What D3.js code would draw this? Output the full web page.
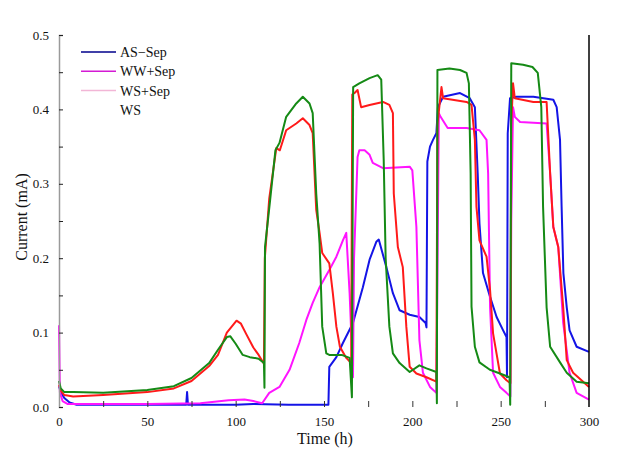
<!DOCTYPE html>
<html><head><meta charset="utf-8">
<script src="https://cdn.jsdelivr.net/npm/d3@7/dist/d3.min.js"></script>
<style>
html,body{margin:0;padding:0;background:#fff;}
svg text{font-family:"Liberation Serif","DejaVu Serif","Times New Roman",serif !important;}
</style></head>
<body><svg id="chart" width="635" height="452"></svg>
<script>
// ---- data (time in h, current in mA) ----
const legendLabels = ["AS\u2212Sep", "WW+Sep", "WS+Sep", "WS"];
const legendColors = ["#00008b", "#d41ad4", "#f2b6d6", "none"];
const yTickLabels = [0.0, 0.1, 0.2, 0.3, 0.4, 0.5];
const xTickLabels = [0, 50, 100, 150, 200, 250, 300];

const blueSeries = [[0,0.028],[1,0.02],[3,0.012],[6,0.006],[10,0.003],[30,0.003],[72,0.003],[72.5,0.02],[73,0.003],[100,0.003],[110,0.004],[130,0.003],[150,0.003],[152.5,0.003],[153,0.054],[157,0.067],[160.7,0.086],[166.4,0.113],[172,0.161],[175.8,0.198],[179.6,0.222],[181,0.225],[185.3,0.188],[189,0.153],[192.8,0.13],[198.5,0.124],[204,0.121],[207.5,0.113],[208,0.107],[208.5,0.33],[210,0.35],[211.7,0.359],[213.6,0.368],[214.5,0.403],[217.4,0.417],[227,0.422],[232.5,0.415],[235.4,0.403],[237,0.314],[238,0.247],[240,0.18],[244,0.148],[247.7,0.121],[251.4,0.103],[253.3,0.094],[253.6,0.04],[254,0.368],[255.3,0.415],[259,0.417],[268.5,0.417],[279.8,0.413],[281.7,0.403],[283.6,0.359],[284.5,0.269],[285.5,0.18],[287.4,0.134],[289,0.103],[293,0.081],[300,0.074]];

const magentaSeries = [[0,0.11],[0.5,0.02],[2,0.008],[5,0.004],[50,0.004],[80,0.005],[96,0.009],[105,0.01],[110,0.008],[115,0.005],[119,0.019],[124.8,0.027],[130.5,0.05],[136,0.086],[140,0.117],[143.6,0.14],[147.5,0.161],[153,0.184],[157,0.202],[160.7,0.224],[162.6,0.234],[164.5,0.153],[166.4,0.04],[167,0.2],[169,0.336],[170,0.345],[173,0.345],[175.8,0.339],[177.6,0.328],[183.4,0.321],[198.5,0.323],[200,0.318],[202.3,0.242],[204,0.09],[206,0.046],[210,0.027],[213.6,0.019],[214.3,0.2],[215,0.395],[216,0.39],[220,0.375],[230.7,0.375],[238,0.372],[242,0.359],[242.9,0.314],[244,0.134],[245.7,0.046],[249.6,0.027],[253.3,0.019],[255.5,0.014],[256,0.25],[257,0.403],[258,0.39],[261,0.383],[276,0.381],[278,0.314],[279.8,0.242],[282.6,0.215],[285.4,0.113],[289,0.046],[293,0.019],[300,0.01]];

const redSeries = [[0,0.03],[1,0.022],[3,0.016],[8,0.014],[25,0.016],[50,0.02],[65,0.025],[75,0.035],[85,0.055],[90,0.07],[95,0.1],[100.5,0.116],[103,0.112],[106,0.098],[110,0.08],[113,0.07],[116,0.058],[116.5,0.2],[119,0.28],[123,0.348],[125,0.345],[128.6,0.372],[134.3,0.381],[138,0.388],[141.8,0.379],[143.6,0.368],[145.6,0.265],[147.5,0.234],[149,0.207],[153,0.193],[155,0.153],[157,0.108],[159,0.081],[162.6,0.066],[165.4,0.059],[166,0.42],[167.3,0.422],[169,0.426],[171,0.403],[175.8,0.406],[183.4,0.41],[187,0.406],[189,0.395],[189.5,0.287],[191.8,0.215],[194.6,0.188],[196.6,0.108],[198.5,0.054],[202.3,0.045],[208,0.04],[213.6,0.034],[214.2,0.38],[216.5,0.43],[217.4,0.415],[230.7,0.41],[233.5,0.406],[235.4,0.359],[236.3,0.269],[238,0.224],[242,0.202],[244,0.157],[245.7,0.099],[249.6,0.045],[253.3,0.036],[255.5,0.032],[256,0.38],[257,0.435],[258,0.415],[268.5,0.41],[276,0.41],[278,0.314],[279.8,0.242],[282.6,0.215],[285.4,0.134],[287.4,0.063],[291,0.046],[300,0.027]];

const greenSeries = [[0,0.035],[1,0.025],[3,0.02],[8,0.02],[25,0.019],[50,0.023],[65,0.028],[75,0.039],[85,0.059],[90,0.077],[95,0.094],[97,0.095],[100,0.085],[104,0.07],[108,0.067],[113,0.065],[116,0.059],[116.3,0.026],[116.6,0.215],[119.5,0.278],[122.5,0.345],[124.8,0.355],[128.6,0.39],[134.3,0.408],[138,0.417],[141.8,0.408],[143.6,0.395],[145.6,0.287],[147.5,0.22],[149,0.108],[151.3,0.072],[153,0.07],[160,0.07],[164.5,0.066],[165.8,0.013],[166.5,0.43],[170,0.435],[175.8,0.442],[180.4,0.446],[182.4,0.44],[183.8,0.332],[184.9,0.2],[187,0.108],[189,0.072],[192.8,0.059],[198.5,0.047],[204,0.056],[208,0.052],[213.6,0.047],[213.9,0.005],[214.2,0.453],[221,0.455],[227,0.453],[230.7,0.449],[232,0.435],[233,0.314],[233.5,0.135],[235.4,0.081],[238,0.06],[243.9,0.05],[249.6,0.045],[255,0.04],[255.4,0.003],[256,0.462],[262.7,0.46],[268,0.457],[271,0.449],[273,0.403],[274,0.269],[276,0.134],[278,0.081],[283.6,0.06],[287.4,0.046],[293,0.034],[300,0.032]];

const seriesList = [
  {name: "AS-Sep", color: "#1414e6", data: blueSeries},
  {name: "WW+Sep", color: "#ff14ff", data: magentaSeries},
  {name: "WS+Sep", color: "#ff1a1a", data: redSeries},
  {name: "WS", color: "#158a15", data: greenSeries}
];

const FONT = "'Liberation Serif', 'DejaVu Serif', 'Times New Roman', serif";

// ---- layout ----
const svg = d3.select("#chart");
const x = d3.scaleLinear().domain([0, 300]).range([59, 589]);
const y = d3.scaleLinear().domain([0, 0.5]).range([407, 35]);

// series
const line = d3.line().x(d => x(d[0])).y(d => y(d[1]));
svg.append("g").selectAll("path").data(seriesList).join("path")
  .attr("d", d => line(d.data))
  .attr("fill", "none")
  .attr("stroke", d => d.color)
  .attr("stroke-width", 2)
  .attr("stroke-linejoin", "round");

// left axis (major labeled + minor)
const yMajor = svg.append("g").attr("transform", `translate(${x(0)},0)`)
  .call(d3.axisLeft(y).tickValues(yTickLabels).tickFormat(d3.format(".1f")).tickSize(-4).tickPadding(10));
yMajor.attr("font-family", null);
yMajor.select(".domain").attr("stroke", "#9a9a9a").attr("stroke-width", 1.5);
yMajor.selectAll("text").attr("font-size", 13).attr("fill", "#111").style("font-family", FONT);
yMajor.selectAll(".tick line").attr("stroke", "#222");
const yMinor = svg.append("g").attr("transform", `translate(${x(0)},0)`)
  .call(d3.axisLeft(y).tickValues([0.05, 0.15, 0.25, 0.35, 0.45]).tickFormat("").tickSize(-4));
yMinor.select(".domain").remove();
yMinor.selectAll(".tick line").attr("stroke", "#222");

// bottom axis (no domain line, ticks up)
const xMajor = svg.append("g").attr("transform", `translate(0,${y(0)})`)
  .call(d3.axisBottom(x).tickValues(xTickLabels).tickSize(-6).tickPadding(10));
xMajor.attr("font-family", null);
xMajor.select(".domain").remove();
xMajor.selectAll("text").attr("font-size", 13).attr("fill", "#111").style("font-family", FONT);
xMajor.selectAll(".tick line").attr("stroke", "#333");
xMajor.selectAll(".tick").filter(d => d === 0 || d === 300).select("line").remove();
const xMinor = svg.append("g").attr("transform", `translate(0,${y(0)})`)
  .call(d3.axisBottom(x).tickValues([25, 75, 125, 175, 225, 275]).tickFormat("").tickSize(-6));
xMinor.select(".domain").remove();
xMinor.selectAll(".tick line").attr("stroke", "#333");

// right border line
svg.append("line").attr("x1", x(300)).attr("x2", x(300)).attr("y1", y(0.5)).attr("y2", y(0))
  .attr("stroke", "#000").attr("stroke-width", 1.5);

// axis titles
svg.append("text").attr("x", 325).attr("y", 444).attr("text-anchor", "middle")
  .attr("font-size", 16).attr("fill", "#111").style("font-family", FONT).text("Time (h)");
svg.append("text").attr("transform", "translate(27,217) rotate(-90)").attr("text-anchor", "middle")
  .attr("font-size", 16).attr("fill", "#111").style("font-family", FONT).text("Current (mA)");

// legend
const lg = svg.append("g");
legendLabels.forEach((lab, i) => {
  const yy = 52 + i * 19.3;
  if (legendColors[i] !== "none") {
    lg.append("line").attr("x1", 81).attr("x2", 116).attr("y1", yy).attr("y2", yy)
      .attr("stroke", legendColors[i]).attr("stroke-width", 1.5);
  }
  lg.append("text").attr("x", 120).attr("y", yy + 5).attr("font-size", 14).attr("fill", "#111")
    .style("font-family", FONT).text(lab);
});
</script></body></html>
